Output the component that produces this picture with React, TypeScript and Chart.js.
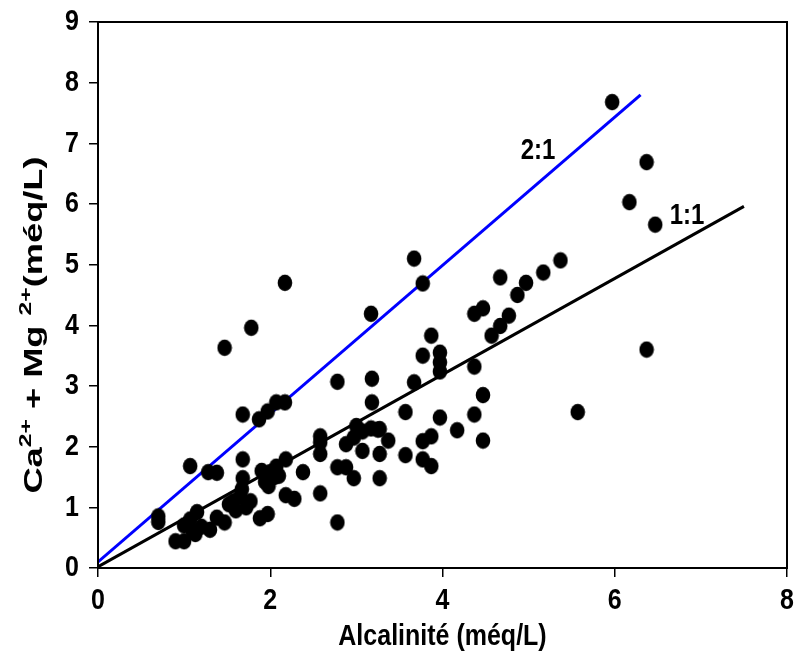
import React, { useEffect, useRef } from "react";
import { Chart, registerables } from "chart.js";

Chart.register(...registerables);

// Scatter data: alkalinity (x) vs Ca2+ + Mg2+ (y), méq/L
const alkalinity = [
  0.7, 0.7, 0.9, 1.0, 1.0, 1.07, 1.15, 1.2, 1.13, 1.3, 1.38, 1.47, 1.1, 1.57, 1.65,
  1.67, 1.77, 1.72, 1.88, 1.97, 1.9, 1.94, 1.98, 2.0, 2.05, 2.07, 2.18, 1.07, 1.28, 1.38,
  1.68, 1.68, 1.68, 1.87, 1.97, 2.07, 2.17, 2.18, 2.28, 2.38, 2.58, 2.58, 2.58, 2.58, 2.78,
  2.78, 2.88, 2.97, 2.88, 2.78, 3.0, 3.07, 3.17, 3.25, 3.07, 3.18, 3.18, 3.27, 3.27, 3.27,
  3.37, 3.57, 3.57, 3.67, 3.77, 3.77, 3.87, 3.77, 3.87, 3.97, 3.97, 3.97, 3.97, 3.87, 4.17,
  4.37, 4.37, 4.47, 4.47, 4.37, 4.47, 4.57, 4.67, 4.77, 4.87, 4.97, 4.67, 5.17, 5.37, 5.57,
  6.37, 6.47, 6.17, 6.37, 5.97, 3.67, 3.77, 3.17, 2.17, 1.78, 1.47, 2.97, 2.1, 1.52, 1.6,
];
const caMg = [
  0.85, 0.76, 0.44, 0.44, 0.7, 0.8, 0.92, 0.68, 0.56, 0.63, 0.83, 0.75, 0.6, 1.1, 1.18,
  1.3, 1.1, 1.0, 0.82, 0.89, 1.6, 1.42, 1.35, 1.58, 1.5, 1.67, 1.79, 1.68, 1.58, 1.57,
  1.79, 1.48, 2.53, 2.45, 2.58, 2.73, 2.73, 1.2, 1.14, 1.58, 1.23, 1.88, 2.07, 2.17, 0.75,
  1.66, 1.66, 1.48, 2.04, 3.07, 2.34, 2.25, 2.3, 2.28, 1.93, 2.73, 3.12, 1.88, 1.48, 2.29,
  2.1, 1.86, 2.57, 3.06, 3.5, 2.09, 2.17, 1.79, 1.68, 2.48, 3.24, 3.39, 3.55, 3.83, 2.27,
  2.53, 3.32, 2.85, 2.1, 4.19, 4.28, 3.83, 3.99, 4.16, 4.5, 4.7, 4.79, 4.87, 5.07, 2.57,
  3.6, 5.66, 6.03, 6.69, 7.68, 5.1, 4.69, 4.19, 4.7, 3.96, 3.63, 2.15, 1.52, 1.05, 0.95,
];

// Reference lines
const line21X = [0, 6.3];
const line21Y = [0.1, 7.8];
const line11X = [0, 7.5];
const line11Y = [0.02, 5.96];

// Line annotations
const lineLabels = ["2:1", "1:1"];
const lineLabelX = [5.11, 6.84];
const lineLabelY = [6.87, 5.8];

// Axes
const xMin = 0;
const xMax = 8;
const xStep = 2;
const yMin = 0;
const yMax = 9;
const yStep = 1;
const xTitle = "Alcalinité (méq/L)";
const yTitleParts = [
  { t: "Ca", sup: false },
  { t: "2+", sup: true },
  { t: " + Mg ", sup: false },
  { t: "2+", sup: true },
  { t: "(méq/L)", sup: false },
];

const FONT = "'Liberation Sans', Arial, sans-serif";
const STRETCH = 1.2;

function drawStretched(
  ctx: CanvasRenderingContext2D,
  text: string,
  x: number,
  y: number,
  size: number,
  align: CanvasTextAlign
) {
  ctx.save();
  ctx.translate(x, y);
  ctx.scale(1, STRETCH);
  ctx.font = `bold ${size}px ${FONT}`;
  ctx.textAlign = align;
  ctx.textBaseline = "middle";
  ctx.fillStyle = "#000";
  ctx.fillText(text, 0, 0);
  ctx.restore();
}

function makeDot(): HTMLCanvasElement {
  const c = document.createElement("canvas");
  c.width = 16;
  c.height = 18;
  const g = c.getContext("2d")!;
  g.fillStyle = "#000";
  g.beginPath();
  g.ellipse(8, 9, 7.3, 8.3, 0, 0, Math.PI * 2);
  g.fill();
  return c;
}

export default function App() {
  const canvasRef = useRef<HTMLCanvasElement | null>(null);

  useEffect(() => {
    document.body.style.margin = "0";
    const canvas = canvasRef.current;
    if (!canvas) return;

    const textPlugin = {
      id: "frameAndText",
      afterDraw(chart: any) {
        const { ctx, chartArea, scales } = chart;
        ctx.save();
        ctx.strokeStyle = "#000";
        ctx.lineWidth = 2;
        ctx.strokeRect(chartArea.left, chartArea.top, chartArea.right - chartArea.left, chartArea.bottom - chartArea.top);

        // tick labels
        scales.x.ticks.forEach((t: any) => {
          drawStretched(ctx, String(t.value), scales.x.getPixelForValue(t.value), 601, 25, "center");
        });
        scales.y.ticks.forEach((t: any) => {
          drawStretched(ctx, String(t.value), 79, scales.y.getPixelForValue(t.value), 25, "right");
        });

        // x title
        drawStretched(ctx, xTitle, (chartArea.left + chartArea.right) / 2, 637, 25, "center");

        // line labels
        lineLabels.forEach((lab, i) => {
          drawStretched(ctx, lab, scales.x.getPixelForValue(lineLabelX[i]), scales.y.getPixelForValue(lineLabelY[i]), 24, "center");
        });

        // y-axis title with superscripts (rotated)
        const size = 25;
        const supSize = 17;
        const pieces = yTitleParts.map((p) => {
          ctx.font = `bold ${p.sup ? supSize : size}px ${FONT}`;
          return { ...p, w: ctx.measureText(p.t).width };
        });
        const total = pieces.reduce((s, p) => s + p.w, 0);
        const cx = 33;
        const cy = 325;
        ctx.translate(cx, cy);
        ctx.rotate(-Math.PI / 2);
        ctx.scale(1.45, 1);
        ctx.textAlign = "left";
        ctx.textBaseline = "alphabetic";
        ctx.fillStyle = "#000";
        let x = -total / 2;
        const base = 9;
        pieces.forEach((p) => {
          ctx.font = `bold ${p.sup ? supSize : size}px ${FONT}`;
          ctx.fillText(p.t, x, p.sup ? base - 11 : base);
          x += p.w;
        });
        ctx.restore();
      },
    };

    const dot = makeDot();

    const chart = new Chart(canvas, {
      type: "scatter",
      data: {
        datasets: [
          {
            type: "scatter",
            label: "Échantillons",
            data: alkalinity.map((x, i) => ({ x, y: caMg[i] })),
            backgroundColor: "#000",
            borderWidth: 0,
            pointStyle: dot as any,
            pointRadius: 8,
            order: 1,
          },
          {
            type: "line",
            label: "2:1",
            data: line21X.map((x, i) => ({ x, y: line21Y[i] })),
            borderColor: "#0000ff",
            borderWidth: 3,
            pointRadius: 0,
            showLine: true,
            fill: false,
            order: 2,
          } as any,
          {
            type: "line",
            label: "1:1",
            data: line11X.map((x, i) => ({ x, y: line11Y[i] })),
            borderColor: "#000",
            borderWidth: 3,
            pointRadius: 0,
            showLine: true,
            fill: false,
            order: 3,
          } as any,
        ],
      },
      options: {
        responsive: false,
        animation: false,
        layout: { padding: { top: 22, right: 8, left: 0, bottom: 0 } },
        plugins: {
          legend: { display: false },
          tooltip: { enabled: false },
        },
        scales: {
          x: {
            type: "linear",
            min: xMin,
            max: xMax,
            afterFit: (s: any) => {
              s.height = 86;
            },
            ticks: { stepSize: xStep, display: false },
            grid: {
              display: true,
              drawOnChartArea: false,
              drawTicks: true,
              tickLength: 9,
              color: "#000",
              lineWidth: 1.5,
            },
            border: { display: true, color: "#000", width: 2 },
            title: { display: false, text: xTitle },
          },
          y: {
            type: "linear",
            min: yMin,
            max: yMax,
            afterFit: (s: any) => {
              s.width = 98;
            },
            ticks: { stepSize: yStep, display: false },
            grid: {
              display: true,
              drawOnChartArea: false,
              drawTicks: true,
              tickLength: 9,
              color: "#000",
              lineWidth: 1.5,
            },
            border: { display: true, color: "#000", width: 2 },
          },
        },
      },
      plugins: [textPlugin],
    });

    return () => chart.destroy();
  }, []);

  return (
    <div style={{ width: 795, height: 654, background: "#fff" }}>
      <canvas ref={canvasRef} width={795} height={654} />
    </div>
  );
}
